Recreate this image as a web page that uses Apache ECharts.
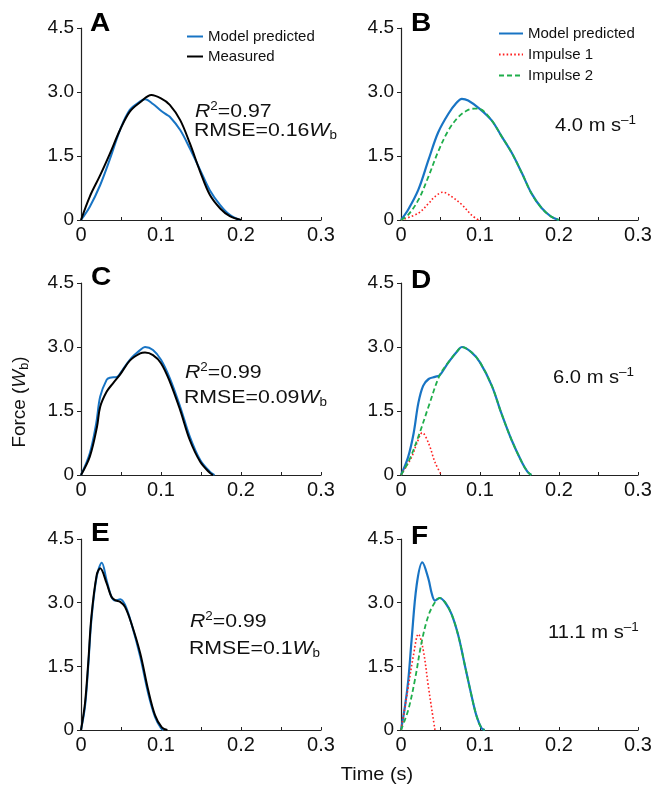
<!DOCTYPE html>
<html>
<head>
<meta charset="utf-8">
<script src="https://cdn.jsdelivr.net/npm/echarts@6/dist/echarts.min.js"></script>
<style>
html,body{margin:0;padding:0;background:#fff;}
#chart{width:669px;height:785px;}
</style>
</head>
<body>
<div id="chart"></div>
<script>
// ---- tick labels ----
const yTicks = [0, 1.5, 3.0, 4.5];
const xTicks = [0, 0.1, 0.2, 0.3];
const panelLetters = ['A', 'B', 'C', 'D', 'E', 'F'];
const speeds = ['4.0', '6.0', '11.1'];
const r2Values = ['0.97', '0.99', '0.99'];
const rmseValues = ['0.16', '0.09', '0.1'];
const seriesNames = ['Model predicted', 'Measured', 'Impulse 1', 'Impulse 2'];

// ---- data: [time (s), force (Wb)] ----
const A_model = [[0,0],[0.011,0.31],[0.024,0.82],[0.036,1.42],[0.049,2.12],[0.061,2.58],[0.074,2.78],[0.08,2.83],[0.09,2.72],[0.1,2.56],[0.106,2.48],[0.111,2.42],[0.124,2.11],[0.136,1.68],[0.149,1.17],[0.161,0.70],[0.174,0.35],[0.186,0.12],[0.199,0]];
const A_meas = [[0,0],[0.011,0.55],[0.024,1.05],[0.036,1.55],[0.049,2.12],[0.061,2.54],[0.074,2.76],[0.088,2.93],[0.1,2.85],[0.111,2.7],[0.124,2.34],[0.136,1.8],[0.149,1.13],[0.161,0.59],[0.174,0.27],[0.186,0.09],[0.2,0]];

const B_model = [[0,0],[0.009,0.24],[0.022,0.71],[0.035,1.42],[0.047,2.05],[0.06,2.49],[0.07,2.74],[0.077,2.84],[0.085,2.8],[0.1,2.6],[0.115,2.33],[0.127,1.97],[0.14,1.58],[0.153,1.1],[0.165,0.63],[0.178,0.28],[0.19,0.08],[0.2,0]];
const B_imp1 = [[0,0],[0.022,0.16],[0.035,0.39],[0.043,0.55],[0.053,0.65],[0.064,0.55],[0.077,0.36],[0.089,0.12],[0.098,0]];
const B_imp2 = [[0,0],[0.009,0.12],[0.022,0.47],[0.035,1.03],[0.047,1.6],[0.06,2.1],[0.073,2.42],[0.085,2.58],[0.093,2.61],[0.1,2.6],[0.115,2.33],[0.127,1.97],[0.14,1.58],[0.153,1.1],[0.165,0.63],[0.178,0.28],[0.19,0.08],[0.2,0]];

const C_model = [[0,0],[0.011,0.51],[0.019,1.21],[0.024,1.84],[0.032,2.23],[0.036,2.28],[0.045,2.3],[0.049,2.38],[0.061,2.7],[0.074,2.93],[0.08,3.0],[0.09,2.93],[0.1,2.7],[0.111,2.27],[0.124,1.6],[0.136,0.9],[0.149,0.35],[0.161,0.08],[0.167,0]];
const C_meas = [[0,0],[0.011,0.43],[0.02,1.13],[0.024,1.6],[0.032,1.95],[0.04,2.15],[0.049,2.36],[0.061,2.68],[0.074,2.85],[0.08,2.87],[0.09,2.81],[0.1,2.62],[0.111,2.19],[0.124,1.52],[0.136,0.82],[0.149,0.31],[0.161,0.05],[0.165,0]];

const D_model = [[0,0],[0.009,0.42],[0.016,0.98],[0.022,1.69],[0.028,2.09],[0.035,2.25],[0.043,2.3],[0.049,2.34],[0.06,2.64],[0.072,2.92],[0.077,3.0],[0.089,2.88],[0.1,2.64],[0.115,2.09],[0.127,1.45],[0.14,0.82],[0.153,0.3],[0.16,0.08],[0.165,0]];
const D_imp1 = [[0,0],[0.0135,0.42],[0.02,0.74],[0.027,0.99],[0.035,0.74],[0.043,0.3],[0.051,0]];
const D_imp2 = [[0,0],[0.01,0.33],[0.022,0.9],[0.035,1.61],[0.049,2.34],[0.06,2.64],[0.072,2.92],[0.077,3.0],[0.089,2.88],[0.1,2.64],[0.115,2.09],[0.127,1.45],[0.14,0.82],[0.153,0.3],[0.16,0.08],[0.165,0]];

const E_model = [[0,0],[0.005,0.55],[0.009,1.49],[0.013,2.59],[0.0196,3.61],[0.026,3.94],[0.032,3.53],[0.038,3.14],[0.0425,3.05],[0.049,3.08],[0.055,2.95],[0.063,2.51],[0.074,1.73],[0.084,0.86],[0.0925,0.31],[0.1,0.04],[0.103,0]];
const E_meas = [[0,0],[0.005,0.63],[0.009,1.57],[0.013,2.67],[0.0196,3.65],[0.024,3.81],[0.032,3.46],[0.038,3.14],[0.0425,3.06],[0.049,3.02],[0.055,2.9],[0.063,2.51],[0.074,1.81],[0.084,0.94],[0.0925,0.35],[0.101,0.06],[0.108,0]];

const F_model = [[0,0],[0.005,0.55],[0.0093,1.19],[0.0135,2.14],[0.0198,3.41],[0.027,3.95],[0.0346,3.57],[0.039,3.21],[0.043,3.05],[0.049,3.11],[0.0557,3.01],[0.064,2.73],[0.0726,2.22],[0.081,1.51],[0.0895,0.79],[0.0958,0.32],[0.102,0.04],[0.106,0]];
const F_imp1 = [[0,0],[0.003,0.32],[0.0093,1.03],[0.0156,1.74],[0.022,2.26],[0.028,1.9],[0.0346,1.03],[0.039,0.48],[0.043,0]];
const F_imp2 = [[0,0],[0.0093,0.48],[0.0177,1.19],[0.026,2.06],[0.0346,2.69],[0.043,3.01],[0.049,3.11],[0.0557,3.01],[0.064,2.73],[0.0726,2.22],[0.081,1.51],[0.0895,0.79],[0.0958,0.32],[0.102,0.04],[0.106,0]];

const BLUE = '#1874c4', BLACK = '#000000', RED = '#ff2020', GREEN = '#1fae4b';
const FONT = '"Liberation Sans", Arial, Helvetica, sans-serif';
const SX = 1.12; // horizontal stretch of annotation text

const grids = [
  {left: 81, top: 28, width: 240, height: 192},
  {left: 401, top: 28, width: 237, height: 192},
  {left: 81, top: 283, width: 240, height: 192},
  {left: 401, top: 283, width: 237, height: 192},
  {left: 81, top: 539, width: 240, height: 191},
  {left: 401, top: 539, width: 237, height: 191}
];

const xAxes = grids.map((g, i) => ({
  type: 'value', gridIndex: i, min: xTicks[0], max: xTicks[xTicks.length - 1], interval: 0.1,
  axisLine: {show: true, onZero: false, lineStyle: {color: '#222', width: 1.2}},
  axisTick: {show: true, inside: true, length: 3, lineStyle: {color: '#222', width: 1}},
  minorTick: {show: true, splitNumber: 2, length: 3, lineStyle: {color: '#222', width: 1}},
  splitLine: {show: false},
  axisLabel: {fontSize: 20, color: '#111', fontFamily: FONT, margin: 5,
    formatter: v => (v === 0 ? '0' : v.toFixed(1))}
}));
const yAxes = grids.map((g, i) => ({
  type: 'value', gridIndex: i, min: yTicks[0], max: yTicks[yTicks.length - 1], interval: 1.5,
  axisLine: {show: true, lineStyle: {color: '#222', width: 1.2}},
  axisTick: {show: true, inside: false, length: 4, lineStyle: {color: '#222', width: 1}},
  splitLine: {show: false},
  axisLabel: {fontSize: 19, color: '#111', fontFamily: FONT, margin: 7,
    formatter: v => (v === 0 ? '0' : v.toFixed(1))}
}));

function line(name, data, idx, color, width, type, z) {
  return {
    type: 'line', name: name, data: data, xAxisIndex: idx, yAxisIndex: idx,
    smooth: 0.35, symbol: 'none', showSymbol: false, silent: true, z: z,
    lineStyle: {color: color, width: width, type: type},
    itemStyle: {color: color}
  };
}
const series = [
  line(seriesNames[0], A_model, 0, BLUE, 2, 'solid', 2),
  line(seriesNames[1], A_meas, 0, BLACK, 2, 'solid', 3),
  line(seriesNames[0], B_model, 1, BLUE, 2.2, 'solid', 2),
  line(seriesNames[2], B_imp1, 1, RED, 1.6, [1.6, 2.2], 3),
  line(seriesNames[3], B_imp2, 1, GREEN, 1.8, [5, 3], 4),
  line(seriesNames[0], C_model, 2, BLUE, 2, 'solid', 2),
  line(seriesNames[1], C_meas, 2, BLACK, 2, 'solid', 3),
  line(seriesNames[0], D_model, 3, BLUE, 2.2, 'solid', 2),
  line(seriesNames[2], D_imp1, 3, RED, 1.6, [1.6, 2.2], 3),
  line(seriesNames[3], D_imp2, 3, GREEN, 1.8, [5, 3], 4),
  line(seriesNames[0], E_model, 4, BLUE, 2, 'solid', 2),
  line(seriesNames[1], E_meas, 4, BLACK, 2, 'solid', 3),
  line(seriesNames[0], F_model, 5, BLUE, 2.2, 'solid', 2),
  line(seriesNames[2], F_imp1, 5, RED, 1.6, [1.6, 2.2], 3),
  line(seriesNames[3], F_imp2, 5, GREEN, 1.8, [5, 3], 4)
];

const richBase = {
  i: {fontSize: 19, fontStyle: 'italic', fontFamily: FONT, color: '#111', lineHeight: 22},
  n: {fontSize: 19, fontFamily: FONT, color: '#111', lineHeight: 22},
  s: {fontSize: 12, fontFamily: FONT, color: '#111', lineHeight: 12, verticalAlign: 'top'},
  b: {fontSize: 12, fontFamily: FONT, color: '#111', lineHeight: 12, verticalAlign: 'bottom'}
};
function rtext(x, y, text, rich, extra) {
  return Object.assign({
    type: 'text', x: x, y: y, silent: true, scaleX: SX,
    style: {text: text, rich: rich, verticalAlign: 'middle', align: 'left', fill: '#111', font: '19px ' + FONT}
  }, extra || {});
}

const letterPos = [[90, 24], [411, 24], [91, 278], [411, 281], [91, 534], [411, 537]];
const annoPos = [[195, 112, 131], [185, 373, 398], [190, 622, 649]];
const speedPos = [[555, 126], [553, 378], [548, 633]];

const graphics = [];
letterPos.forEach((p, i) => {
  graphics.push({type: 'text', x: p[0], y: p[1], silent: true, scaleX: 1.08,
    style: {text: panelLetters[i], font: 'bold 26px ' + FONT, fill: '#000', verticalAlign: 'middle', align: 'left'}});
});
annoPos.forEach((p, i) => {
  graphics.push(rtext(p[0], p[1], '{i|R}{s|2}{n|=' + r2Values[i] + '}', richBase));
  graphics.push(rtext(p[0] - 1, p[2], '{n|RMSE=' + rmseValues[i] + '}{i|W}{b|b}', richBase));
});
const speedRich = {
  n: {fontSize: 18, fontFamily: FONT, color: '#111', lineHeight: 22},
  s: {fontSize: 12, fontFamily: FONT, color: '#111', lineHeight: 12, verticalAlign: 'top'}
};
speedPos.forEach((p, i) => {
  graphics.push(rtext(p[0], p[1], '{n|' + speeds[i] + ' m s}{s|–1}', speedRich));
});
const forceLabel = rtext(20, 402, '{n|Force (}{i|W}{b|b}{n|)}', {
  n: {fontSize: 18, fontFamily: FONT, color: '#111', lineHeight: 22},
  i: {fontSize: 18, fontStyle: 'italic', fontFamily: FONT, color: '#111', lineHeight: 22},
  b: {fontSize: 12, fontFamily: FONT, color: '#111', lineHeight: 12, verticalAlign: 'bottom'}
}, {rotation: Math.PI / 2, scaleX: 1.05});
forceLabel.style.align = 'center';
graphics.push(forceLabel);
graphics.push({type: 'text', x: 377, y: 775, silent: true, scaleX: 1.05,
  style: {text: 'Time (s)', font: '19px ' + FONT, fill: '#111', align: 'center', verticalAlign: 'middle'}});

const legendCommon = {
  orient: 'vertical', itemHeight: 14, padding: 0, selectedMode: false,
  itemStyle: {opacity: 0, borderWidth: 0},
  textStyle: {fontSize: 15, color: '#111', fontFamily: FONT, lineHeight: 14}
};
const legends = [
  Object.assign({}, legendCommon, {left: 186, top: 29, itemWidth: 16, itemGap: 5,
    data: [seriesNames[0], seriesNames[1]]}),
  Object.assign({}, legendCommon, {left: 498, top: 26, itemWidth: 24, itemGap: 6,
    data: [seriesNames[0], seriesNames[2], seriesNames[3]]})
];

const chart = echarts.init(document.getElementById('chart'), null, {renderer: 'canvas'});
chart.setOption({
  backgroundColor: '#fff',
  animation: false,
  grid: grids,
  xAxis: xAxes,
  yAxis: yAxes,
  legend: legends,
  series: series,
  graphic: graphics
});
</script>
</body>
</html>
